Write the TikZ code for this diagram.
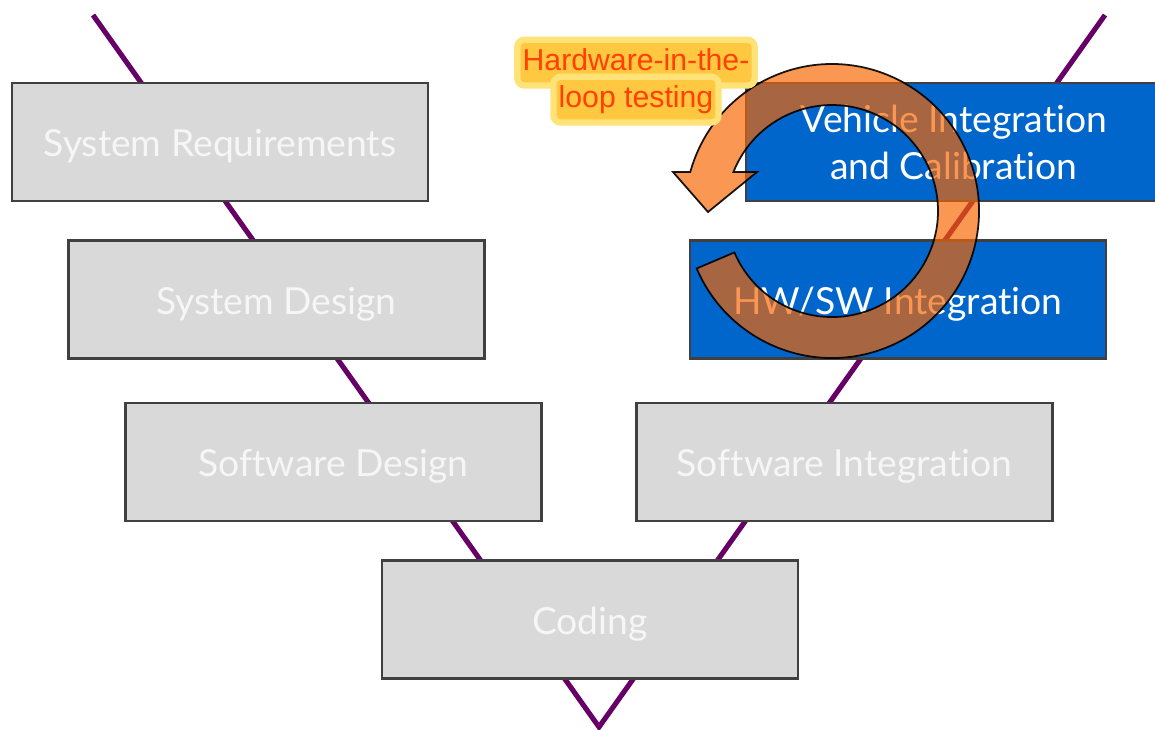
\documentclass[tikz,border=0pt]{standalone}
\usepackage{fontspec}
\newfontfamily\boxfont[Ligatures={NoCommon,NoRare}]{Lato}
\newfontfamily\labelfont{Liberation Sans}
\definecolor{vline}{RGB}{102,0,102}
\definecolor{boxgrey}{RGB}{217,217,217}
\definecolor{boxblue}{RGB}{0,102,204}
\definecolor{boxline}{RGB}{64,64,64}
\definecolor{boxtext}{RGB}{246,246,246}
\definecolor{loopfill}{RGB}{247,101,0}
\definecolor{labeltext}{RGB}{255,64,0}
\definecolor{hlinner}{RGB}{255,200,64}
\definecolor{hlouter}{RGB}{255,226,120}
\tikzset{
  phase/.style={draw=boxline, line width=0.6pt, minimum width=4.16cm,
    minimum height=1.18cm, inner sep=0pt, align=center, text=boxtext,
    font=\boxfont\fontsize{10.6}{13.4}\selectfont},
  oneline/.style={text height=10.5pt, text depth=2pt},
  greyphase/.style={phase, oneline, fill=boxgrey},
  bluephase/.style={phase, fill=boxblue, text=white},
  vee/.style={draw=vline, line width=1.45pt},
  looparrow/.style={fill=loopfill, fill opacity=0.68, draw=black, draw opacity=0.9, line width=0.5pt},
  hil/.style={fill=hlinner, draw=hlouter, line width=1.8pt, rounded corners=2pt,
    text=labeltext, inner xsep=1.5pt, inner ysep=2.2pt, anchor=base,
    text height=6.4pt, text depth=2.2pt,
    font=\labelfont\fontsize{8.6}{10.5}\selectfont}
}
\begin{document}
\begin{tikzpicture}
\useasboundingbox (0,0) rectangle (11.55,-7.29);
\clip (0,0) rectangle (11.55,-7.29);

% the V of the development cycle, behind the phase boxes
\coordinate (vtopL) at (0.93,-0.15);
\coordinate (vbot)  at (5.99,-7.27);
\coordinate (vtopR) at (11.05,-0.15);
\draw[vee] (vtopL) -- (vbot) -- (vtopR);

% left branch
\node[greyphase] (req)  at (2.20,-1.42)  {System Requirements};
\node[greyphase] (sysd) at (2.765,-2.995) {System Design};
\node[greyphase] (swd)  at (3.335,-4.62)  {Software Design};
% bottom
\node[greyphase] (cod)  at (5.90,-6.195) {Coding};
% right branch
\node[greyphase] (swi)  at (8.445,-4.62) {Software Integration};
\node[bluephase, oneline] (hwsw) at (8.98,-2.995) {HW/SW Integration};
\node[bluephase] (veh)  at (9.54,-1.42)  {Vehicle Integration\\and Calibration};

% circular arrow of the hardware-in-the-loop cycle
\coordinate (C) at (8.32,-2.11);
\path[looparrow]
  ([shift={(203:1.47)}]C) arc[start angle=203, end angle=524.6, radius=1.47]
  -- (6.73,-1.72) -- (7.08,-2.12) -- (7.57,-1.72)
  -- ([shift={(518.4:1.06)}]C) arc[start angle=518.4, end angle=203, radius=1.06]
  -- cycle;

% highlighted label
\node[hil] (hil1) at (6.36,-0.70) {Hardware-in-the-};
\node[hil] (hil2) at (6.36,-1.07) {loop testing};
\end{tikzpicture}
\end{document}
